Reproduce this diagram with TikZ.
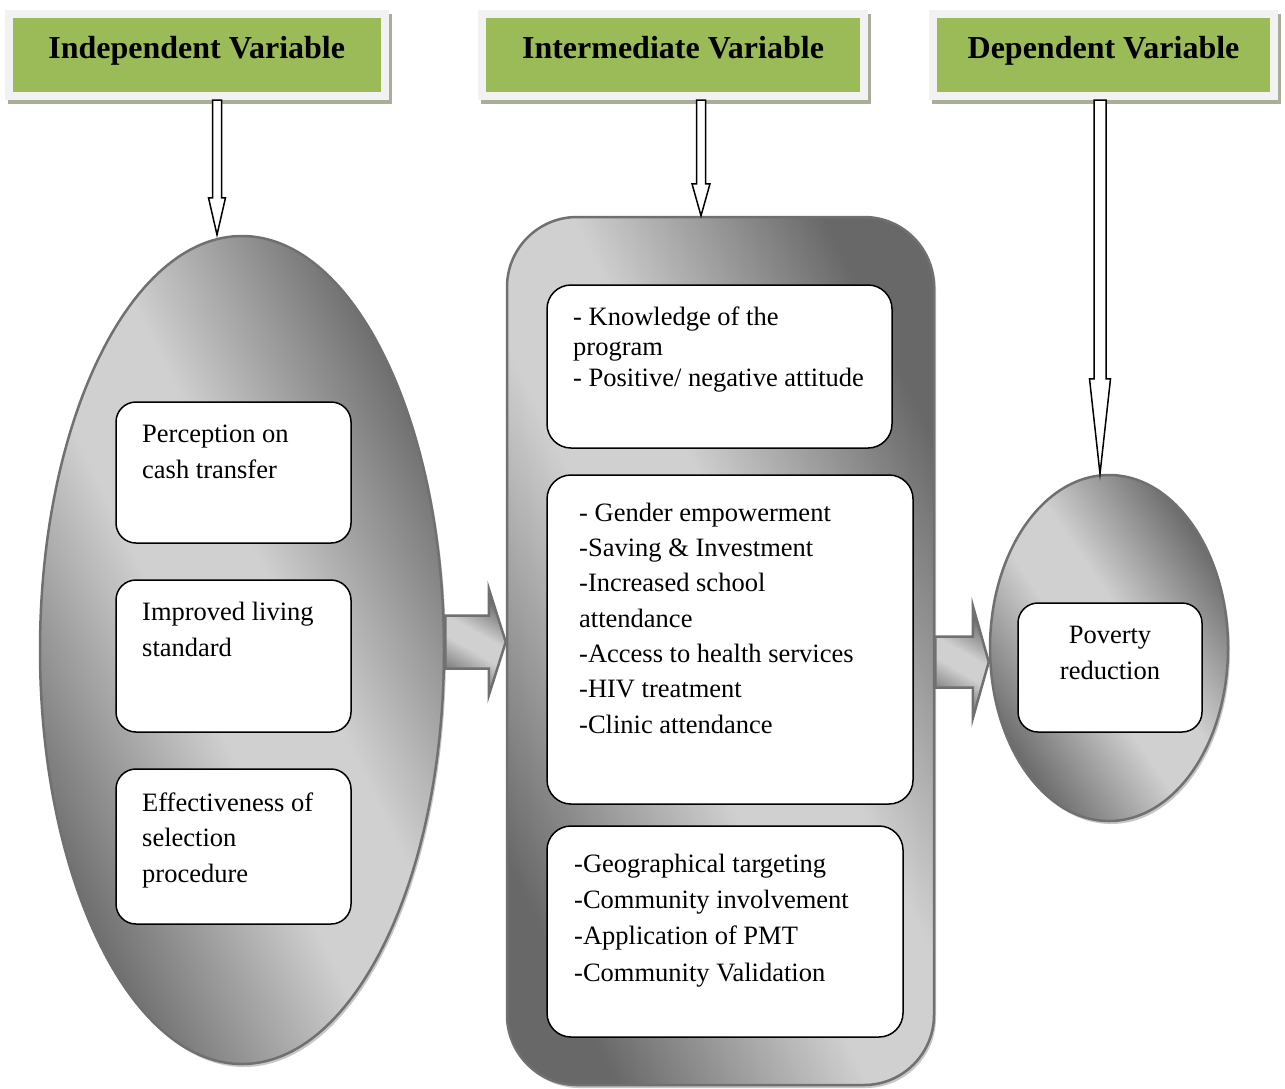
\documentclass[tikz,border=0pt]{standalone}
\usepackage{fontspec}
\setmainfont{Liberation Serif}
\usetikzlibrary{positioning, shapes.geometric, shadows, calc}

\definecolor{hgreen}{RGB}{155,187,89}
\definecolor{hframe}{RGB}{242,242,242}
\definecolor{hshadow}{RGB}{168,175,152}
\definecolor{shdark}{RGB}{104,104,104}
\definecolor{shlight}{RGB}{208,208,208}
\definecolor{rimgray}{RGB}{112,112,112}

% dark - light - dark band, tilted per shape with shading angle
\pgfdeclareverticalshading{metalband}{100bp}{color(0bp)=(shdark); color(25bp)=(shdark); color(45bp)=(shlight); color(55bp)=(shlight); color(75bp)=(shdark); color(100bp)=(shdark)}

% hollow down arrow: from, to, x of arrow, half shaft, half head, head length
\newcommand{\hollowarrow}[6]{%
  \draw[hollowarr] let \p1=(#1.south), \p2=(#2.north) in
    (#3pt-#4pt,\y1) -- (#3pt-#4pt,\y2+#6pt) -- (#3pt-#5pt,\y2+#6pt) -- (#3pt,\y2)
    -- (#3pt+#5pt,\y2+#6pt) -- (#3pt+#4pt,\y2+#6pt) -- (#3pt+#4pt,\y1) -- cycle;}

% block arrow to the right: from, to, y of axis, half shaft, half head, head length
\newcommand{\fatarrow}[6]{%
  \draw[fatarr] let \p1=(#1.east), \p2=(#2.west) in
    (\x1,-#3pt+#4pt) -- (\x2-#6pt,-#3pt+#4pt) -- (\x2-#6pt,-#3pt+#5pt) -- (\x2,-#3pt)
    -- (\x2-#6pt,-#3pt-#5pt) -- (\x2-#6pt,-#3pt-#4pt) -- (\x1,-#3pt-#4pt) -- cycle;}

\begin{document}
\begin{tikzpicture}[x=1pt, y=-1pt,
        header/.style={rectangle, draw=hframe, line width=8pt, fill=hgreen, minimum height=82pt, inner sep=0pt, text height=22pt, text depth=16pt, font=\fontsize{32}{38}\selectfont\bfseries, drop shadow={shadow xshift=3pt, shadow yshift=-4pt, fill=hshadow, draw=hshadow, opacity=1}},
        metal/.style={shading=metalband, shading angle=#1},
        metal/.default=-45,
        outershape/.style={draw=rimgray, line width=2.5pt, inner sep=0pt, drop shadow={shadow xshift=2pt, shadow yshift=-3pt, fill=black!22, opacity=1}},
        itembox/.style={rectangle, rounded corners=20pt, draw=black, line width=1.5pt, fill=white, inner sep=0pt},
        itemtext/.style={anchor=base west, align=left, inner sep=0pt, font=\fontsize{26.5}{35.3}\selectfont},
        hollowarr/.style={draw=black, line width=1.5pt, fill=white},
        fatarr/.style={metal=-30, draw=rimgray, line width=2.5pt},
    ]
        \useasboundingbox (0,0) rectangle (1285,1088);

        % Headers
        \node[header, minimum width=375.5pt] (indep) at (196.75,55) {Independent Variable};
        \node[header, minimum width=382pt] (inter) at (673,55) {Intermediate Variable};
        \node[header, minimum width=341pt] (dep) at (1103.5,55) {Dependent Variable};

        % Grey containers
        \node[outershape, metal=-64, ellipse, minimum width=404pt, minimum height=828pt] (indell) at (242,650) {};
        \node[outershape, metal=-64, rectangle, rounded corners=70pt, minimum width=427pt, minimum height=868pt] (intrect) at (720.5,651) {};
        \node[outershape, metal=-56, ellipse, minimum width=238pt, minimum height=346pt] (depell) at (1109,648) {};

        % Hollow arrows from the headers
        \hollowarrow{indep}{indell}{217}{4.5}{8.5}{37}
        \hollowarrow{inter}{intrect}{701}{4.5}{9}{32}
        \hollowarrow{dep}{depell}{1100}{6}{10.5}{95}

        % Block arrows between containers
        \fatarrow{indell}{intrect}{642}{26.5}{53.5}{17}
        \fatarrow{intrect}{depell}{662}{25.5}{56.5}{16}

        % Independent variable items (text anchored on its last line)
        \node[itembox, minimum width=235pt, minimum height=141pt] (percep) at (233.5,472.5) {};
        \node[itembox, minimum width=235pt, minimum height=152pt] (living) at (233.5,656) {};
        \node[itembox, minimum width=235pt, minimum height=155pt] (select) at (233.5,846.5) {};
        \node[itemtext] (percept) at (142,478) {Perception on\\cash transfer};
        \node[itemtext] (livingt) at (142,656) {Improved living\\standard};
        \node[itemtext] (selectt) at (142,882) {Effectiveness of\\selection\\procedure};

        % Intermediate variable items
        \node[itembox, rounded corners=24pt, minimum width=345pt, minimum height=163pt] (know) at (719.5,366.5) {};
        \node[itembox, rounded corners=24pt, minimum width=366pt, minimum height=329pt] (gender) at (730,639.5) {};
        \node[itembox, rounded corners=24pt, minimum width=356pt, minimum height=211pt] (geo) at (725,931.5) {};
        \node[itemtext, font=\fontsize{26.5}{30.5}\selectfont] (knowt) at (573,386) {- Knowledge of the\\program\\- Positive/ negative attitude};
        \node[itemtext] (gendert) at (579,733) {- Gender empowerment\\-Saving \& Investment\\-Increased school\\attendance\\-Access to health services\\-HIV treatment\\-Clinic attendance};
        \node[itemtext, font=\fontsize{26.5}{36.3}\selectfont] (geot) at (574,981) {-Geographical targeting\\-Community involvement\\-Application of PMT\\-Community Validation};

        % Dependent variable item
        \node[itembox, minimum width=184pt, minimum height=129pt] (pov) at (1110,667.5) {};
        \node[itemtext, anchor=base, align=center, font=\fontsize{26.5}{36}\selectfont] (povt) at (1110,679) {Poverty\\reduction};
    \end{tikzpicture}
\end{document}
